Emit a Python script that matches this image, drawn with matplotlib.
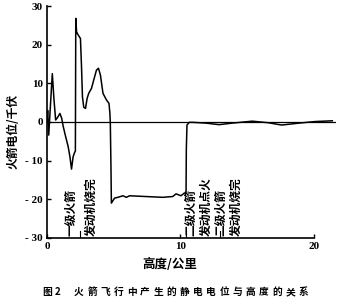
import matplotlib
matplotlib.use("Agg")
import matplotlib.pyplot as plt

plt.rcParams["font.family"] = ["Noto Sans CJK SC", "DejaVu Sans"]

# traced curve: altitude (km) vs rocket potential (kV)
altitude_km = [0.0, 0.05, 0.13, 0.22, 0.4, 0.52, 0.65, 0.8, 0.97, 1.1, 1.22,
               1.4, 1.59, 1.72, 1.84, 1.96, 2.06, 2.13, 2.16, 2.22, 2.34,
               2.51, 2.59, 2.66, 2.76, 2.89, 3.01, 3.13, 3.34, 3.51, 3.71,
               3.86, 4.01, 4.2, 4.46, 4.65, 4.72, 4.75, 4.8, 4.83, 5.07,
               5.32, 5.7, 5.95, 6.2, 7.44, 8.68, 9.43, 9.68, 10.05, 10.3,
               10.43, 10.45, 10.5, 10.67, 10.92, 11.92, 12.91, 13.9, 15.4,
               16.6, 17.6, 18.9, 20.1, 21.4]
potential_kv = [0.0, 3.0, -3.4, 2.0, 12.5, 6.0, 0.5, 1.2, 2.2, 1.0, -1.2,
                -3.8, -6.4, -9.0, -12.2, -9.0, -8.0, -7.5, 26.8, 23.3, 22.5,
                21.6, 14.3, 6.5, 3.8, 3.5, 6.1, 7.4, 8.7, 10.9, 13.4,
                13.9, 12.1, 7.4, 5.7, 4.8, 2.2, -0.3, -12.0, -21.0, -19.7,
                -19.5, -19.1, -19.5, -19.1, -19.3, -19.5, -19.3, -18.6, -19.1, -18.4,
                -18.4, -7.2, -0.8, -0.1, -0.1, -0.3, -0.7, -0.3, 0.2,
                -0.2, -0.8, -0.3, 0.1, 0.3]

x_ticks = [0, 10, 20]
y_ticks = [-30, -20, -10, 0, 10, 20, 30]

event_km = [2.5, 10.45, 12.95]
event_labels = ["一级火箭\n发动机烧完", "二级火箭\n发动机点火", "二级火箭\n发动机烧完"]
event_text_x = [2.55, 11.35, 13.6]
event_spacing = [1.65, 1.3, 1.3]

x_label = "高度/公里"
y_label = "火箭电位/千伏"
fig_number = "图 2"
caption = "火箭飞行中产生的静电电位与高度的关系"

fig = plt.figure(figsize=(3.38, 3.0), dpi=100)
ax = fig.add_axes([0.139, 0.207, 0.856, 0.773])

ax.plot(altitude_km, potential_kv, color="black", lw=1.1)
ax.axhline(0, color="black", lw=0.9)

for xe in event_km:
    ax.plot([xe, xe], [-30, -28.2], color="black", lw=0.8)

for xt, lab, ls in zip(event_text_x, event_labels, event_spacing):
    ax.text(xt, -29.6, lab, rotation=90, ha="center", va="bottom",
            multialignment="left", fontsize=8.5, fontweight="bold",
            linespacing=ls)

ax.set_xlim(0, 21.7)
ax.set_ylim(-30, 30)
ax.set_xticks(x_ticks)
ax.set_yticks(y_ticks)
ax.set_xticklabels([str(v) for v in x_ticks], family="Liberation Serif",
                   fontweight="bold", fontsize=8)
ax.set_yticklabels([("- " + str(-v)) if v < 0 else str(v) for v in y_ticks],
                   family="Liberation Serif", fontweight="bold", fontsize=8)
ax.tick_params(direction="in", length=3, width=1, pad=3)

for side in ["top", "right"]:
    ax.spines[side].set_visible(False)
ax.spines["bottom"].set_bounds(0, 20)
ax.spines["left"].set_linewidth(1.2)
ax.spines["bottom"].set_linewidth(1.2)

fig.text(0.04, 0.563, y_label, rotation=90, ha="center", va="center",
         fontsize=8.5, fontweight="bold")
fig.text(0.503, 0.117, x_label, ha="center", va="center",
         fontsize=9, fontweight="bold")

# caption is printed with wide letter spacing
fig.text(43 / 338, 0.027, fig_number, ha="left", va="center",
         fontsize=7, fontweight="bold")
step = 13.2
for i, ch in enumerate(caption):
    fig.text((79 + i * step) / 338, 0.027, ch, ha="center", va="center",
             fontsize=7, fontweight="bold")

fig.savefig("out.png", dpi=100)
